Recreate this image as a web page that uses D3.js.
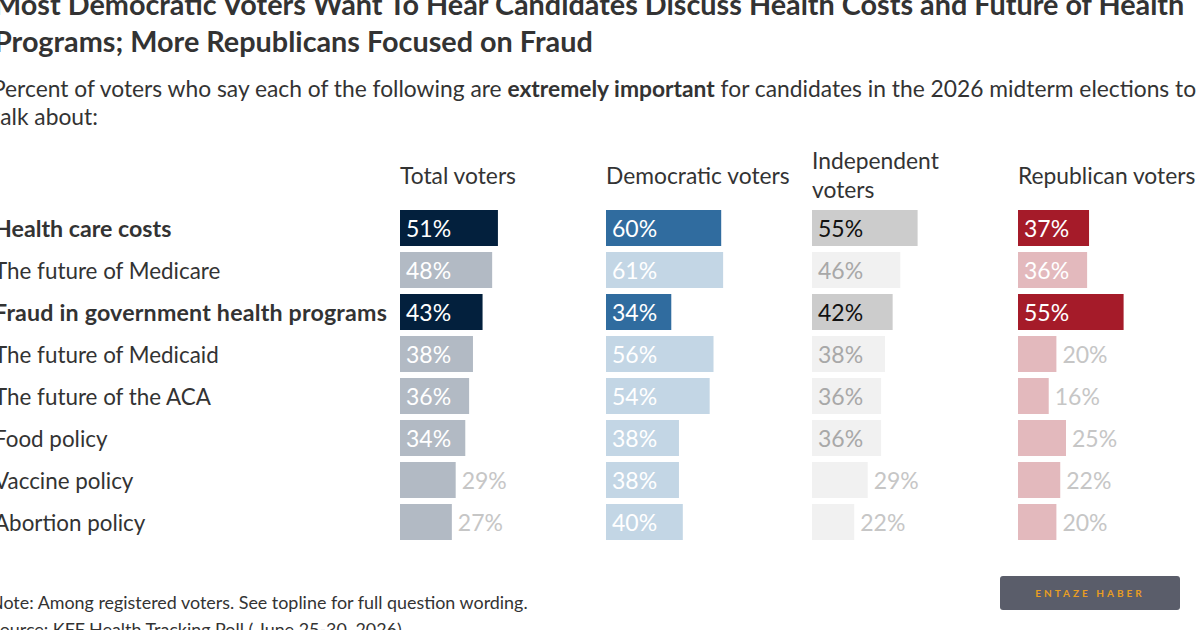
<!DOCTYPE html>
<html>
<head>
<meta charset="utf-8">
<script src="https://cdn.jsdelivr.net/npm/d3@7"></script>
<style>
  html, body { margin: 0; padding: 0; background: #fff; overflow: hidden; }
  svg { display: block; font-family: "Source Sans Pro", Lato, "Noto Sans", sans-serif; }
</style>
</head>
<body>
<svg id="chart" width="1200" height="630"></svg>
<script>
// categories and values
const categories = [
  'Health care costs',
  'The future of Medicare',
  'Fraud in government health programs',
  'The future of Medicaid',
  'The future of the ACA',
  'Food policy',
  'Vaccine policy',
  'Abortion policy'
];
const highlighted = ['Health care costs', 'Fraud in government health programs'];
const groups = ['Total voters', 'Democratic voters', 'Independent voters', 'Republican voters'];
const totalVals = [51, 48, 43, 38, 36, 34, 29, 27];
const demVals = [60, 61, 34, 56, 54, 38, 38, 40];
const indVals = [55, 46, 42, 38, 36, 36, 29, 22];
const repVals = [37, 36, 55, 20, 16, 25, 22, 20];

const series = [totalVals, demVals, indVals, repVals];

// colour per group: highlight bar, muted bar, and their label colours
const palette = {
  'Total voters':       { hi: '#03203d', lo: '#b2bac4', hiText: '#fff', loText: '#fff' },
  'Democratic voters':  { hi: '#306c9f', lo: '#c3d6e5', hiText: '#fff', loText: '#fff' },
  'Independent voters': { hi: '#cccccc', lo: '#f1f1f1', hiText: '#111', loText: '#a8a8a8' },
  'Republican voters':  { hi: '#a51b29', lo: '#e3b9bd', hiText: '#fff', loText: '#fff' }
};
const outsideColor = '#c6c6c6';
const insideMin = 30; // below this the label sits outside the bar

const svg = d3.select('#chart');

// title + subtitle (the picture is cropped on the left, so text starts a bit off-canvas)
const title = svg.append('g').attr('fill', '#333').attr('font-weight', 700).attr('font-size', 28.8);
title.append('text').attr('x', -6).attr('y', 15)
  .text('Most Democratic Voters Want To Hear Candidates Discuss Health Costs and Future of Health');
title.append('text').attr('x', -6).attr('y', 52)
  .text('Programs; More Republicans Focused on Fraud');

const sub = svg.append('text').attr('x', -8).attr('y', 97).attr('fill', '#333').attr('font-size', 22.8);
sub.append('tspan').text('Percent of voters who say each of the following are ');
sub.append('tspan').attr('font-weight', 700).text('extremely important');
sub.append('tspan').text(' for candidates in the 2026 midterm elections to');
svg.append('text').attr('x', -8).attr('y', 125).attr('fill', '#333').attr('font-size', 22.8)
  .text('talk about:');

// scales
const xCol = d3.scaleBand().domain(groups).range([400, 1224]);
const x = d3.scaleLinear().domain([0, 100]).range([0, 192]);
const y = d3.scaleBand().domain(categories).range([210, 540]).paddingInner(6 / 42);

// column headers
groups.forEach(g => {
  const t = svg.append('text').attr('x', xCol(g)).attr('fill', '#333').attr('font-size', 22.8);
  if (g === 'Independent voters') {
    t.append('tspan').attr('x', xCol(g)).attr('y', 169).text('Independent');
    t.append('tspan').attr('x', xCol(g)).attr('y', 198).text('voters');
  } else {
    t.attr('y', 184).text(g);
  }
});

// row labels
svg.append('g').selectAll('text')
  .data(categories)
  .join('text')
  .attr('x', -6)
  .attr('y', d => y(d) + y.bandwidth() / 2 + 9)
  .attr('fill', '#333')
  .attr('font-size', d => highlighted.includes(d) ? 23.2 : 22.4)
  .attr('font-weight', d => highlighted.includes(d) ? 700 : 400)
  .attr('letter-spacing', d => d.startsWith('Fraud') ? 0.2 : 0)
  .text(d => d);

// bars per group
groups.forEach((g, gi) => {
  const rows = categories.map((c, i) => ({ cat: c, value: series[gi][i], hi: highlighted.includes(c) }));
  const col = svg.append('g').attr('transform', `translate(${xCol(g)},0)`);
  const pal = palette[g];

  col.selectAll('rect')
    .data(rows)
    .join('rect')
    .attr('x', 0)
    .attr('y', d => y(d.cat))
    .attr('width', d => x(d.value))
    .attr('height', y.bandwidth())
    .attr('fill', d => d.hi ? pal.hi : pal.lo);

  col.selectAll('text')
    .data(rows)
    .join('text')
    .attr('x', d => d.value >= insideMin ? 6 : x(d.value) + 6)
    .attr('y', d => y(d.cat) + y.bandwidth() / 2 + 9)
    .attr('font-size', 23)
    .attr('fill', d => d.value < insideMin ? outsideColor : (d.hi ? pal.hiText : pal.loText))
    .text(d => d.value + '%');
});

// notes
svg.append('text').attr('x', -10).attr('y', 609).attr('fill', '#333').attr('font-size', 17.9)
  .text('Note: Among registered voters. See topline for full question wording.');
svg.append('text').attr('x', -10).attr('y', 636).attr('fill', '#333').attr('font-size', 17.9)
  .text('Source: KFF Health Tracking Poll ( June 25-30, 2026)');

// badge
const badge = svg.append('g').attr('transform', 'translate(1000,576)');
badge.append('rect').attr('width', 180).attr('height', 34).attr('rx', 3).attr('fill', '#5a5d6a');
badge.append('text').attr('x', 90).attr('y', 21).attr('text-anchor', 'middle')
  .attr('fill', '#e89e22').attr('font-size', 10).attr('font-weight', 700)
  .attr('letter-spacing', 3).text('ENTAZE HABER');
</script>
</body>
</html>
